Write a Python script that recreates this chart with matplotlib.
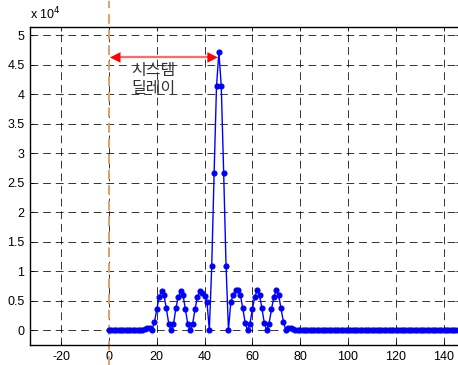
import numpy as np
import matplotlib.pyplot as plt
from matplotlib.ticker import MultipleLocator, FuncFormatter

plt.rcParams.update({
    'font.family': ['Liberation Sans', 'DejaVu Sans'],
    'font.size': 9,
    'axes.unicode_minus': False,
    'xtick.direction': 'in',
    'ytick.direction': 'in',
})

# ── data (y in units of 1e4) ────────────────────────────────────────────────
lag_start = 0
lead = [0.0] * 15 + [0.01, 0.03, 0.04, 0.0]          # lags 0..18
side_left = [0.13, 0.35, 0.56, 0.66, 0.59, 0.37, 0.11, 0.0,
             0.10, 0.37, 0.56, 0.66, 0.59, 0.35, 0.10, 0.0,
             0.10, 0.35, 0.56, 0.66, 0.62, 0.58, 0.48, 0.0]   # lags 19..42
main_peak = [1.08, 2.66, 4.13, 4.71, 4.13, 2.66, 1.08]        # lags 43..49
side_right = [0.0, 0.48, 0.59, 0.67, 0.68, 0.59, 0.37, 0.12,
              0.0, 0.11, 0.35, 0.56, 0.67, 0.59, 0.37, 0.12,
              0.0, 0.11, 0.35, 0.56, 0.67, 0.59, 0.37, 0.14]  # lags 50..73
trail = [0.0, 0.04, 0.04, 0.02] + [0.0] * 73                   # lags 74..150

corr = np.array(lead + side_left + main_peak + side_right + trail)
lags = np.arange(lag_start, lag_start + len(corr))

delay_from, delay_to = 0.4, 45.6
delay_y = 4.62
delay_label = '시스템\n딜레이'

# ── figure ──────────────────────────────────────────────────────────────────
fig = plt.figure(figsize=(4.58, 3.65), dpi=100)
ax = fig.add_axes([30 / 458, 20 / 365, 430 / 458, 318 / 365])

ax.plot(lags, corr, '-', color='#0000ff', lw=1.0, marker='o', ms=3.4,
        mec='#0000ff', mfc='#0000ff', zorder=3)

ax.set_xlim(-33.05, 146.9)
ax.set_ylim(-0.254, 5.136)
ax.xaxis.set_major_locator(MultipleLocator(20))
ax.yaxis.set_major_locator(MultipleLocator(0.5))
ax.yaxis.set_major_formatter(FuncFormatter(lambda v, p: f'{v:g}'))
ax.tick_params(top=True, right=True, length=3, width=0.6, pad=4)
ax.grid(True, color='k', ls=(0, (8, 5)), lw=0.7, alpha=0.8)
for s in ax.spines.values():
    s.set_linewidth(1.0)

ax.text(0.0, 1.015, r'x 10$^{4}$', transform=ax.transAxes, fontsize=9,
        ha='left', va='bottom')

# system delay marker
ax.plot([0, 0], [-0.65, 5.58], color='#e0a070', ls=(0, (5, 3)), lw=1.4,
        clip_on=False, zorder=2)
ax.plot([delay_from + 3, delay_to - 3], [delay_y, delay_y],
        color='#ff6b6b', lw=1.6, zorder=4)
ax.annotate('', xy=(delay_from, delay_y), xytext=(delay_to, delay_y),
            arrowprops=dict(arrowstyle='<|-|>', color='red', lw=0.01,
                            mutation_scale=19, shrinkA=0, shrinkB=0),
            zorder=5)
ax.text(18.6, 4.25, delay_label, family=['Noto Sans CJK KR', 'DejaVu Sans'],
        fontsize=11.5, color='#333333', ha='center', va='center',
        linespacing=1.05)

fig.savefig('out.png', dpi=100)
